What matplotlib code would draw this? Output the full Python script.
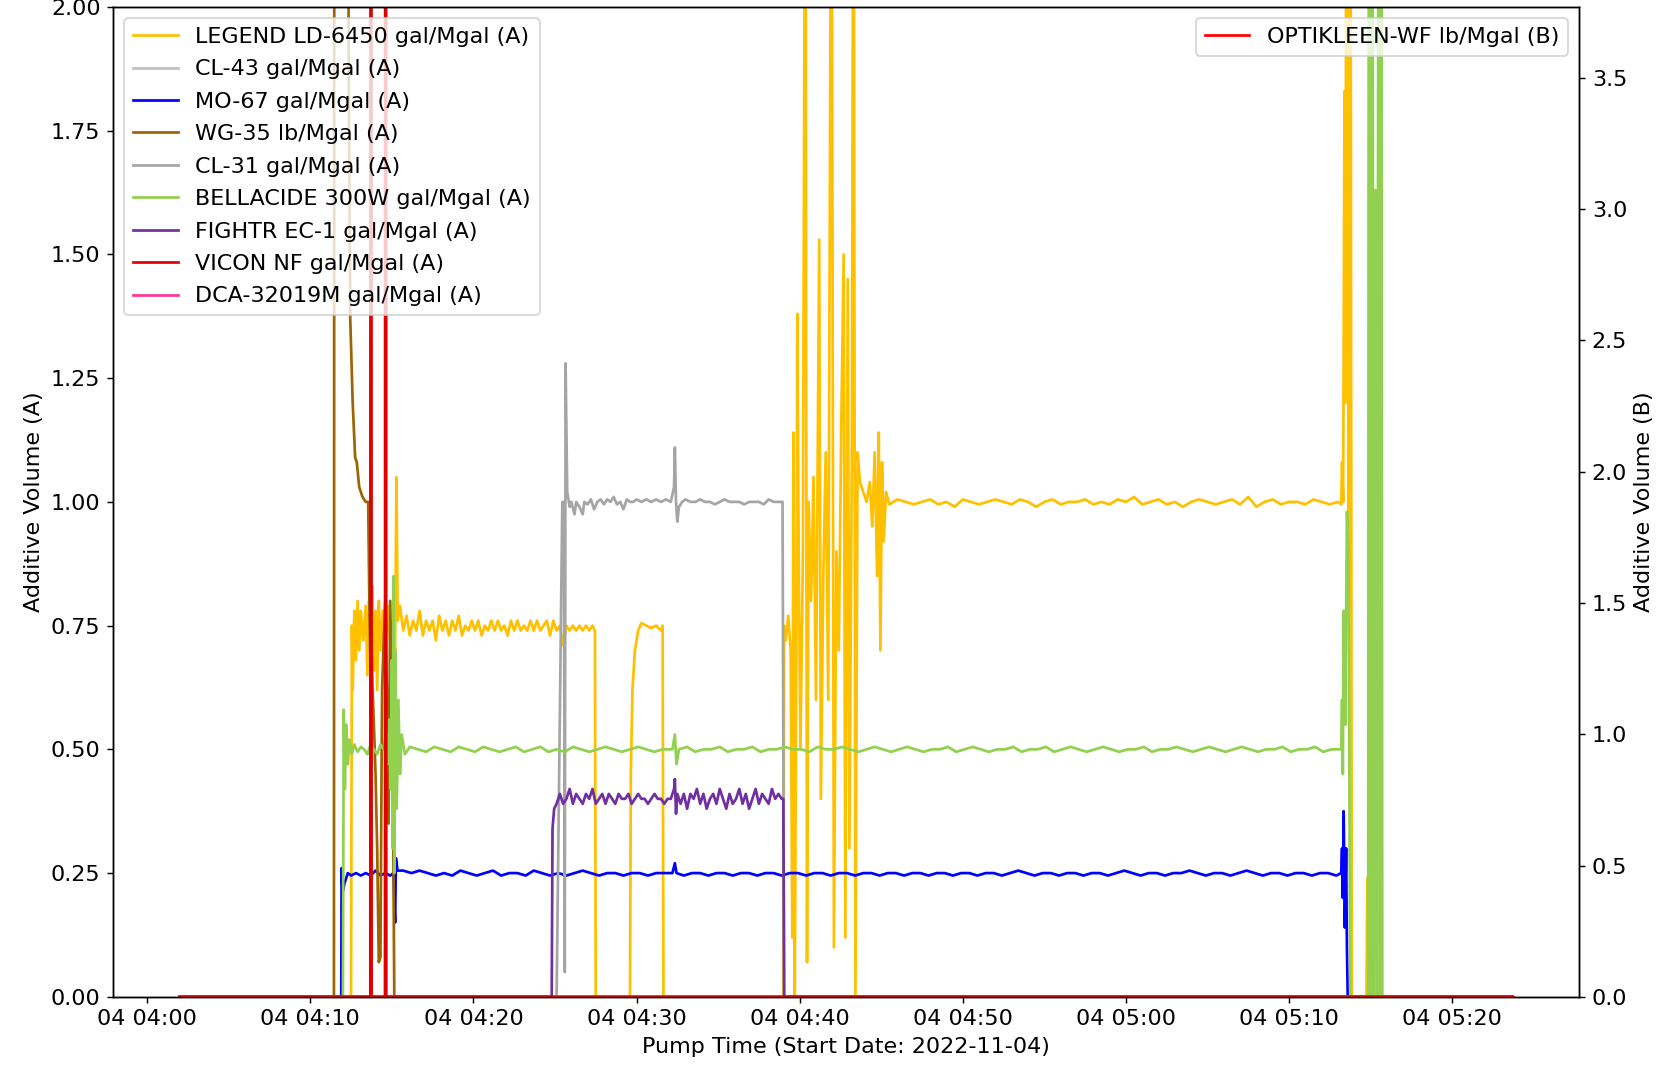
import pandas as pd
import matplotlib
matplotlib.use('Agg')
import matplotlib.pyplot as plt

plt.rcParams['font.size'] = 12.3

START = pd.Timestamp('2022-11-04 04:00:00')

# --- data: (minutes after 04:00, value) ---
legend_ld6450 = [
    (2.0, 0.0), (12.5, 0.0), (12.55, 0.75), (12.6, 0.62), (12.7, 0.78), (12.8, 0.68), (12.9, 0.80),
    (13.0, 0.70), (13.1, 0.78), (13.25, 0.72), (13.4, 0.79), (13.5, 0.65), (13.6, 0.80), (13.7, 0.72),
    (13.8, 0.83), (13.9, 0.66), (14.0, 0.78), (14.1, 0.62), (14.2, 0.80), (14.3, 0.70), (14.45, 0.78),
    (14.6, 0.68), (14.75, 0.79), (14.9, 0.72), (15.05, 0.76), (15.2, 0.70), (15.28, 1.05), (15.36, 0.76),
    (15.5, 0.79), (15.7, 0.74), (15.9, 0.77), (16.1, 0.73), (16.3, 0.76), (16.5, 0.74), (16.7, 0.78),
    (16.9, 0.73), (17.1, 0.76), (17.3, 0.74), (17.5, 0.76), (17.7, 0.72), (17.9, 0.77), (18.1, 0.74),
    (18.3, 0.76), (18.5, 0.73), (18.7, 0.76), (18.9, 0.74), (19.1, 0.77), (19.3, 0.73), (19.5, 0.75),
    (19.7, 0.74), (19.9, 0.76), (20.1, 0.74), (20.3, 0.76), (20.5, 0.73), (20.7, 0.75), (20.9, 0.74),
    (21.1, 0.76), (21.3, 0.74), (21.5, 0.76), (21.7, 0.74), (21.9, 0.75), (22.1, 0.73), (22.3, 0.76),
    (22.5, 0.74), (22.7, 0.76), (22.9, 0.74), (23.1, 0.75), (23.3, 0.74), (23.5, 0.76), (23.7, 0.74),
    (23.9, 0.76), (24.1, 0.74), (24.3, 0.75), (24.5, 0.76), (24.7, 0.73), (24.9, 0.76), (25.1, 0.74),
    (25.3, 0.75), (25.5, 0.71), (25.7, 0.75), (25.9, 0.74), (26.1, 0.75), (26.3, 0.74), (26.5, 0.75),
    (26.7, 0.74), (26.9, 0.75), (27.1, 0.74), (27.3, 0.75), (27.45, 0.74), (27.5, 0.0),
    (29.6, 0.0), (29.65, 0.45), (29.75, 0.62), (29.9, 0.70), (30.1, 0.74), (30.3, 0.755), (30.6, 0.75),
    (30.9, 0.745), (31.2, 0.75), (31.5, 0.74), (31.6, 0.75), (31.65, 0.0),
    (39.0, 0.0), (39.05, 0.75), (39.15, 0.72), (39.3, 0.77), (39.45, 0.70), (39.55, 0.12), (39.62, 1.14),
    (39.7, 0.0), (39.8, 0.72), (39.86, 1.38), (39.95, 0.85), (40.05, 0.50), (40.2, 0.90), (40.35, 2.6),
    (40.45, 0.07), (40.55, 1.0), (40.7, 0.80), (40.85, 1.05), (41.0, 0.60), (41.2, 1.53), (41.3, 0.40),
    (41.45, 0.85), (41.6, 1.10), (41.75, 0.60), (41.95, 2.6), (42.1, 0.10), (42.25, 0.90), (42.4, 0.70),
    (42.55, 1.15), (42.7, 1.50), (42.8, 0.12), (42.95, 1.45), (43.05, 0.30), (43.2, 1.10), (43.3, 2.7),
    (43.42, 0.0), (43.55, 1.10), (43.7, 1.04), (43.9, 1.02), (44.1, 1.00), (44.3, 1.04), (44.45, 0.95),
    (44.6, 1.10), (44.75, 0.85), (44.85, 1.14), (44.95, 0.70), (45.05, 1.08), (45.15, 0.92), (45.3, 1.02),
    (45.5, 0.995), (46.0, 1.005), (46.5, 1.00), (47.0, 0.995), (47.5, 1.00), (48.0, 1.005), (48.5, 0.995),
    (49.0, 1.00), (49.5, 0.99), (50.0, 1.005), (50.5, 1.00), (51.0, 0.995), (51.5, 1.00), (52.0, 1.005),
    (52.5, 1.00), (53.0, 0.995), (53.5, 1.005), (54.0, 1.00), (54.5, 0.99), (55.0, 1.00), (55.5, 1.005),
    (56.0, 0.995), (56.5, 1.00), (57.0, 1.00), (57.5, 1.005), (58.0, 0.995), (58.5, 1.00), (59.0, 0.995),
    (59.5, 1.005), (60.0, 1.00), (60.5, 1.01), (61.0, 0.995), (61.5, 1.00), (62.0, 1.005), (62.5, 0.995),
    (63.0, 1.00), (63.5, 0.99), (64.0, 1.00), (64.5, 1.005), (65.0, 1.00), (65.5, 0.995), (66.0, 1.00),
    (66.5, 1.005), (67.0, 0.995), (67.5, 1.01), (68.0, 0.99), (68.5, 1.00), (69.0, 1.005), (69.5, 0.995),
    (70.0, 1.00), (70.5, 1.00), (71.0, 0.995), (71.5, 1.005), (72.0, 1.00), (72.5, 0.995), (73.0, 1.00),
    (73.2, 0.995), (73.25, 1.08), (73.32, 1.00), (73.4, 1.83), (73.45, 1.20), (73.55, 3.0), (73.65, 0.9),
    (73.75, 3.0), (73.85, 0.0), (74.75, 0.0), (74.8, 0.24), (74.85, 0.0), (83.7, 0.0),
]

cl43 = [(2.0, 0.0), (83.7, 0.0)]

mo67 = [
    (2.0, 0.0), (11.9, 0.0), (11.92, 0.26), (11.98, 0.21), (12.1, 0.23), (12.3, 0.25), (12.5, 0.245),
    (12.8, 0.25), (13.1, 0.245), (13.4, 0.25), (13.7, 0.245), (14.0, 0.255), (14.3, 0.245), (14.6, 0.25),
    (14.9, 0.245), (15.1, 0.25), (15.2, 0.15), (15.25, 0.28), (15.35, 0.255), (15.7, 0.255), (16.2, 0.25),
    (16.7, 0.255), (17.2, 0.25), (17.7, 0.245), (18.2, 0.25), (18.7, 0.245), (19.2, 0.255), (19.7, 0.25),
    (20.2, 0.245), (20.7, 0.25), (21.2, 0.255), (21.7, 0.245), (22.2, 0.25), (22.7, 0.25), (23.2, 0.245),
    (23.7, 0.255), (24.2, 0.25), (24.7, 0.245), (25.2, 0.25), (25.7, 0.245), (26.2, 0.25), (26.7, 0.255),
    (27.2, 0.25), (27.7, 0.245), (28.2, 0.25), (28.7, 0.25), (29.2, 0.245), (29.7, 0.25), (30.2, 0.25),
    (30.7, 0.245), (31.2, 0.25), (31.7, 0.25), (32.2, 0.25), (32.35, 0.27), (32.45, 0.25), (32.9, 0.245),
    (33.4, 0.25), (33.9, 0.25), (34.4, 0.245), (34.9, 0.25), (35.4, 0.25), (35.9, 0.245), (36.4, 0.25),
    (36.9, 0.25), (37.4, 0.245), (37.9, 0.25), (38.4, 0.25), (38.9, 0.245), (39.4, 0.25), (39.9, 0.25),
    (40.4, 0.245), (40.9, 0.25), (41.4, 0.25), (41.9, 0.245), (42.4, 0.25), (42.9, 0.25), (43.4, 0.245),
    (43.9, 0.25), (44.4, 0.25), (44.9, 0.245), (45.4, 0.25), (45.9, 0.25), (46.4, 0.245), (46.9, 0.25),
    (47.4, 0.25), (47.9, 0.245), (48.4, 0.25), (48.9, 0.25), (49.4, 0.245), (49.9, 0.25), (50.4, 0.25),
    (50.9, 0.245), (51.4, 0.25), (51.9, 0.25), (52.4, 0.245), (52.9, 0.25), (53.4, 0.255), (53.9, 0.25),
    (54.4, 0.245), (54.9, 0.25), (55.4, 0.25), (55.9, 0.245), (56.4, 0.25), (56.9, 0.25), (57.4, 0.245),
    (57.9, 0.25), (58.4, 0.25), (58.9, 0.245), (59.4, 0.25), (59.9, 0.255), (60.4, 0.25), (60.9, 0.245),
    (61.4, 0.25), (61.9, 0.25), (62.4, 0.245), (62.9, 0.25), (63.4, 0.25), (63.9, 0.255), (64.4, 0.25),
    (64.9, 0.245), (65.4, 0.25), (65.9, 0.25), (66.4, 0.245), (66.9, 0.25), (67.4, 0.255), (67.9, 0.25),
    (68.4, 0.245), (68.9, 0.25), (69.4, 0.25), (69.9, 0.245), (70.4, 0.25), (70.9, 0.25), (71.4, 0.245),
    (71.9, 0.25), (72.4, 0.25), (72.9, 0.245), (73.2, 0.25), (73.25, 0.30), (73.3, 0.20), (73.35, 0.375),
    (73.42, 0.14), (73.5, 0.30), (73.55, 0.10), (73.6, 0.0), (83.7, 0.0),
]

wg35 = [
    (2.0, 0.0), (11.45, 0.0), (11.5, 5.0), (12.25, 5.0), (12.35, 1.9), (12.45, 1.37), (12.6, 1.20),
    (12.75, 1.09), (12.85, 1.08), (13.0, 1.03), (13.2, 1.01), (13.4, 1.00), (13.55, 1.00), (13.62, 0.80),
    (13.7, 0.65), (13.75, 0.72), (13.82, 0.62), (13.9, 0.55), (14.0, 0.45), (14.1, 0.30), (14.2, 0.07),
    (14.3, 0.08), (14.4, 0.62), (14.5, 0.72), (14.6, 0.80), (14.7, 0.60), (14.8, 0.35), (14.9, 0.80),
    (15.05, 0.50), (15.15, 0.0), (83.7, 0.0),
]

cl31 = [
    (2.0, 0.0), (25.1, 0.0), (25.45, 1.0), (25.55, 1.0), (25.6, 0.05), (25.65, 1.28), (25.75, 1.02),
    (25.9, 0.99), (26.0, 1.00), (26.2, 0.975), (26.3, 1.00), (26.5, 0.99), (26.7, 0.975), (26.8, 1.00),
    (27.0, 0.995), (27.2, 1.005), (27.4, 0.985), (27.6, 1.00), (27.8, 1.005), (28.0, 0.995), (28.2, 1.005),
    (28.4, 1.00), (28.6, 1.01), (28.8, 0.995), (29.0, 1.00), (29.2, 0.985), (29.4, 1.005), (29.6, 1.00),
    (29.8, 1.00), (30.0, 1.005), (30.3, 1.00), (30.6, 1.005), (30.9, 1.00), (31.2, 1.005), (31.5, 1.00),
    (31.8, 1.005), (32.1, 1.00), (32.3, 1.03), (32.35, 1.11), (32.42, 1.00), (32.5, 0.96), (32.6, 0.99),
    (32.8, 1.00), (33.0, 1.005), (33.3, 1.00), (33.6, 1.00), (33.9, 1.005), (34.2, 1.00), (34.5, 1.00),
    (34.8, 0.995), (35.1, 1.00), (35.4, 1.005), (35.7, 1.00), (36.0, 1.00), (36.3, 1.00), (36.6, 0.995),
    (36.9, 1.00), (37.2, 1.00), (37.5, 1.00), (37.8, 0.995), (38.1, 1.005), (38.4, 1.00), (38.7, 1.00),
    (38.95, 1.00), (39.05, 0.0), (83.7, 0.0),
]

bellacide = [
    (2.0, 0.0), (12.0, 0.0), (12.05, 0.58), (12.12, 0.42), (12.2, 0.55), (12.3, 0.47), (12.4, 0.52),
    (12.55, 0.49), (12.7, 0.51), (12.9, 0.495), (13.1, 0.505), (13.3, 0.50), (13.5, 0.49), (13.7, 0.51),
    (13.9, 0.50), (14.1, 0.49), (14.3, 0.51), (14.5, 0.50), (14.65, 0.53), (14.75, 0.47), (14.85, 0.56),
    (14.92, 0.42), (15.0, 0.68), (15.05, 0.30), (15.1, 0.85), (15.15, 0.25), (15.2, 0.70), (15.3, 0.38),
    (15.4, 0.60), (15.5, 0.45), (15.6, 0.53), (15.8, 0.49), (16.1, 0.505), (16.6, 0.50), (17.1, 0.495),
    (17.6, 0.505), (18.1, 0.50), (18.6, 0.495), (19.1, 0.505), (19.6, 0.50), (20.1, 0.495), (20.6, 0.505),
    (21.1, 0.50), (21.6, 0.495), (22.1, 0.50), (22.6, 0.505), (23.1, 0.495), (23.6, 0.50), (24.1, 0.505),
    (24.6, 0.495), (25.1, 0.50), (25.6, 0.495), (26.1, 0.505), (26.6, 0.50), (27.1, 0.495), (27.6, 0.50),
    (28.1, 0.505), (28.6, 0.50), (29.1, 0.495), (29.6, 0.50), (30.1, 0.505), (30.6, 0.50), (31.1, 0.495),
    (31.6, 0.50), (32.2, 0.50), (32.35, 0.53), (32.45, 0.47), (32.6, 0.50), (33.1, 0.505), (33.6, 0.495),
    (34.1, 0.50), (34.6, 0.50), (35.1, 0.505), (35.6, 0.495), (36.1, 0.50), (36.6, 0.50), (37.1, 0.505),
    (37.6, 0.495), (38.1, 0.50), (38.6, 0.50), (39.1, 0.505), (39.6, 0.50), (40.1, 0.50), (40.6, 0.495),
    (41.1, 0.505), (41.6, 0.50), (42.1, 0.50), (42.6, 0.505), (43.1, 0.50), (43.6, 0.495), (44.1, 0.50),
    (44.6, 0.505), (45.1, 0.50), (45.6, 0.495), (46.1, 0.50), (46.6, 0.505), (47.1, 0.50), (47.6, 0.495),
    (48.1, 0.50), (48.6, 0.50), (49.1, 0.505), (49.6, 0.495), (50.1, 0.50), (50.6, 0.505), (51.1, 0.50),
    (51.6, 0.495), (52.1, 0.50), (52.6, 0.50), (53.1, 0.505), (53.6, 0.495), (54.1, 0.50), (54.6, 0.50),
    (55.1, 0.505), (55.6, 0.495), (56.1, 0.50), (56.6, 0.505), (57.1, 0.50), (57.6, 0.495), (58.1, 0.50),
    (58.6, 0.505), (59.1, 0.50), (59.6, 0.495), (60.1, 0.50), (60.6, 0.50), (61.1, 0.505), (61.6, 0.495),
    (62.1, 0.50), (62.6, 0.50), (63.1, 0.505), (63.6, 0.50), (64.1, 0.495), (64.6, 0.50), (65.1, 0.505),
    (65.6, 0.50), (66.1, 0.495), (66.6, 0.50), (67.1, 0.505), (67.6, 0.50), (68.1, 0.495), (68.6, 0.50),
    (69.1, 0.50), (69.6, 0.505), (70.1, 0.495), (70.6, 0.50), (71.1, 0.50), (71.6, 0.505), (72.1, 0.495),
    (72.6, 0.50), (73.2, 0.50), (73.25, 0.60), (73.3, 0.45), (73.35, 0.78), (73.45, 0.55), (73.55, 0.98),
    (73.65, 0.90), (73.75, 0.0), (74.85, 0.0), (74.9, 3.0), (75.0, 0.0), (75.1, 3.0), (75.2, 0.0),
    (75.3, 1.63), (75.4, 0.0), (75.5, 3.0), (75.6, 0.0), (75.65, 3.0), (75.72, 0.0), (83.7, 0.0),
]

fightr_ec1 = [
    (2.0, 0.0), (24.8, 0.0), (24.85, 0.34), (24.95, 0.38), (25.1, 0.39), (25.3, 0.41), (25.5, 0.39),
    (25.7, 0.40), (25.9, 0.42), (26.1, 0.39), (26.3, 0.41), (26.5, 0.40), (26.7, 0.39), (26.9, 0.41),
    (27.1, 0.40), (27.3, 0.42), (27.5, 0.39), (27.7, 0.40), (27.9, 0.41), (28.1, 0.39), (28.3, 0.41),
    (28.5, 0.40), (28.7, 0.39), (28.9, 0.41), (29.1, 0.40), (29.3, 0.40), (29.5, 0.41), (29.7, 0.39),
    (29.9, 0.40), (30.1, 0.41), (30.3, 0.40), (30.5, 0.40), (30.7, 0.39), (30.9, 0.40), (31.1, 0.41),
    (31.3, 0.40), (31.5, 0.40), (31.7, 0.39), (31.9, 0.40), (32.1, 0.40), (32.3, 0.42), (32.35, 0.44),
    (32.42, 0.37), (32.5, 0.41), (32.7, 0.39), (32.9, 0.41), (33.1, 0.38), (33.3, 0.41), (33.5, 0.40),
    (33.7, 0.42), (33.9, 0.39), (34.1, 0.41), (34.3, 0.38), (34.5, 0.40), (34.7, 0.41), (34.9, 0.39),
    (35.1, 0.42), (35.3, 0.40), (35.5, 0.38), (35.7, 0.41), (35.9, 0.39), (36.1, 0.40), (36.3, 0.42),
    (36.5, 0.39), (36.7, 0.41), (36.9, 0.38), (37.1, 0.40), (37.3, 0.42), (37.5, 0.39), (37.7, 0.41),
    (37.9, 0.40), (38.1, 0.39), (38.3, 0.42), (38.5, 0.40), (38.7, 0.41), (38.9, 0.40), (39.0, 0.40),
    (39.05, 0.0), (83.7, 0.0),
]

vicon_nf = [
    (2.0, 0.0), (13.68, 0.0), (13.72, 8.0), (13.76, 0.0), (14.58, 0.0), (14.62, 8.0), (14.66, 0.0),
    (83.7, 0.0),
]

dca_32019m = [(2.0, 0.0), (83.7, 0.0)]

optikleen_wf = [(2.0, 0.0), (83.7, 0.0)]

series_a = [
    ('LEGEND LD-6450 gal/Mgal (A)', legend_ld6450, '#FFC000'),
    ('CL-43 gal/Mgal (A)', cl43, '#BFBFBF'),
    ('MO-67 gal/Mgal (A)', mo67, '#0000FF'),
    ('WG-35 lb/Mgal (A)', wg35, '#9C6500'),
    ('CL-31 gal/Mgal (A)', cl31, '#A5A5A5'),
    ('BELLACIDE 300W gal/Mgal (A)', bellacide, '#92D050'),
    ('FIGHTR EC-1 gal/Mgal (A)', fightr_ec1, '#7030A0'),
    ('VICON NF gal/Mgal (A)', vicon_nf, '#E00000'),
    ('DCA-32019M gal/Mgal (A)', dca_32019m, '#FF3399'),
]


def to_xy(points):
    t = START + pd.to_timedelta([p[0] for p in points], unit='min')
    return t, [p[1] for p in points]


fig, ax = plt.subplots(figsize=(12.8, 8.254), dpi=130)
ax2 = ax.twinx()

for label, pts, color in series_a:
    t, v = to_xy(pts)
    ax.plot(t, v, color=color, linewidth=1.5, label=label)

t, v = to_xy(optikleen_wf)
ax2.plot(t, v, color='#FF0000', linewidth=1.5, label='OPTIKLEEN-WF lb/Mgal (B)')

ax.set_ylim(0, 2.0)
ax2.set_ylim(0, 3.77)

ax.set_xlabel('Pump Time (Start Date: 2022-11-04)')
ax.set_ylabel('Additive Volume (A)')
ax2.set_ylabel('Additive Volume (B)')

ax.legend(loc='upper left', labelspacing=0.56)
ax2.legend(loc='upper right')

fig.subplots_adjust(left=0.068, right=0.949, bottom=0.071, top=0.9935)
fig.savefig('out.png', dpi=130)
